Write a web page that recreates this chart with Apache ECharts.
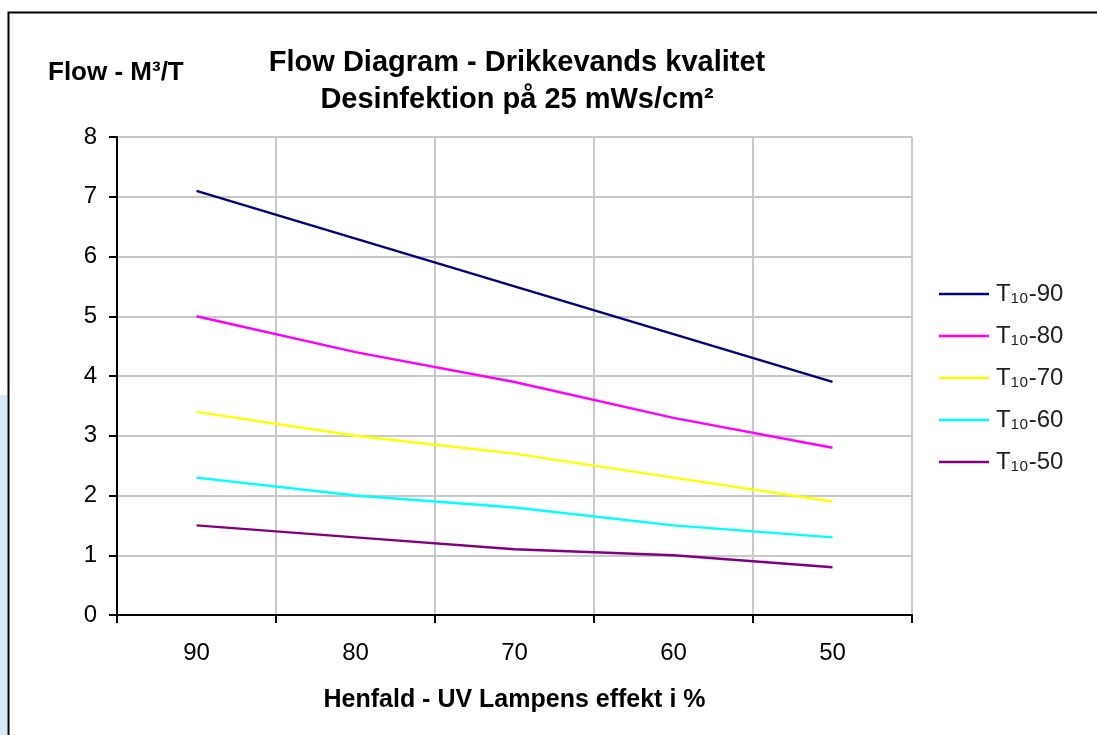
<!DOCTYPE html>
<html>
<head>
<meta charset="utf-8">
<script src="https://cdn.jsdelivr.net/npm/echarts@6/dist/echarts.min.js"></script>
<style>
html,body{margin:0;padding:0;background:#fff;}
#chart{width:1097px;height:735px;}
</style>
</head>
<body>
<div id="chart"></div>
<script>
const categories = ['90', '80', '70', '60', '50'];
const seriesNames = ['T₁₀-90', 'T₁₀-80', 'T₁₀-70', 'T₁₀-60', 'T₁₀-50'];
const t90 = [7.1, 6.3, 5.5, 4.7, 3.9];
const t80 = [5.0, 4.4, 3.9, 3.3, 2.8];
const t70 = [3.4, 3.0, 2.7, 2.3, 1.9];
const t60 = [2.3, 2.0, 1.8, 1.5, 1.3];
const t50 = [1.5, 1.3, 1.1, 1.0, 0.8];
const colors = ['#000080', '#FF00FF', '#FFFF00', '#00FFFF', '#800080'];
const titleLines = ['Flow Diagram - Drikkevands kvalitet', 'Desinfektion på 25 mWs/cm²'];
const yName = 'Flow - M³/T';
const xName = 'Henfald - UV Lampens effekt i %';

const dataSets = [t90, t80, t70, t60, t50];
const font = 'Arial, "Liberation Sans", sans-serif';

const chart = echarts.init(document.getElementById('chart'), null, {renderer: 'canvas'});
chart.setOption({
  animation: false,
  backgroundColor: '#fff',
  title: {
    text: titleLines.join('\n'),
    left: 512,
    top: 39,
    textAlign: 'center',
    textStyle: {fontFamily: font, fontSize: 29, fontWeight: 'bold', color: '#000', lineHeight: 37}
  },
  graphic: [
    {type: 'rect', left: 0, top: 395, shape: {width: 7, height: 340}, style: {fill: '#d9e8f6'}, silent: true},
    {type: 'rect', shape: {x: 8.5, y: 12.5, width: 1100, height: 800}, style: {fill: null, stroke: '#000', lineWidth: 2}, silent: true, z: 100},
    {type: 'text', style: {x: 48, y: 73, text: yName, font: 'bold 26px ' + font, fill: '#000', verticalAlign: 'middle'}}
  ],
  legend: {
    orient: 'vertical',
    left: 934,
    top: 277,
    itemWidth: 50,
    itemHeight: 24,
    itemGap: 18,
    icon: 'path://M0,0L50,0L50,2.4L0,2.4Z',
    data: seriesNames,
    textStyle: {fontFamily: font, fontSize: 24, color: '#222', padding: [0, 0, 0, 2]}
  },
  grid: {left: 117, top: 137, right: 185, bottom: 120, containLabel: false},
  xAxis: {
    type: 'category',
    data: categories,
    boundaryGap: true,
    name: xName,
    nameLocation: 'middle',
    nameGap: 73,
    nameTextStyle: {fontFamily: font, fontSize: 25, fontWeight: 'bold', color: '#000'},
    axisLine: {lineStyle: {color: '#000', width: 2}},
    axisTick: {show: true, length: 8, lineStyle: {color: '#000', width: 2}},
    axisLabel: {fontFamily: font, fontSize: 24, color: '#000', margin: 26},
    splitLine: {show: true, lineStyle: {color: '#c8c8c8', width: 2}}
  },
  yAxis: {
    type: 'value',
    min: 0,
    max: 8,
    interval: 1,
    axisLine: {show: true, lineStyle: {color: '#000', width: 2}},
    axisTick: {show: true, length: 8, lineStyle: {color: '#000', width: 2}},
    axisLabel: {fontFamily: font, fontSize: 24, color: '#000', margin: 20},
    splitLine: {show: true, lineStyle: {color: '#c8c8c8', width: 2}}
  },
  series: dataSets.map((d, i) => ({
    name: seriesNames[i],
    type: 'line',
    data: d,
    symbol: 'none',
    lineStyle: {color: colors[i], width: 2.4},
    itemStyle: {color: colors[i]}
  }))
});
</script>
</body>
</html>
